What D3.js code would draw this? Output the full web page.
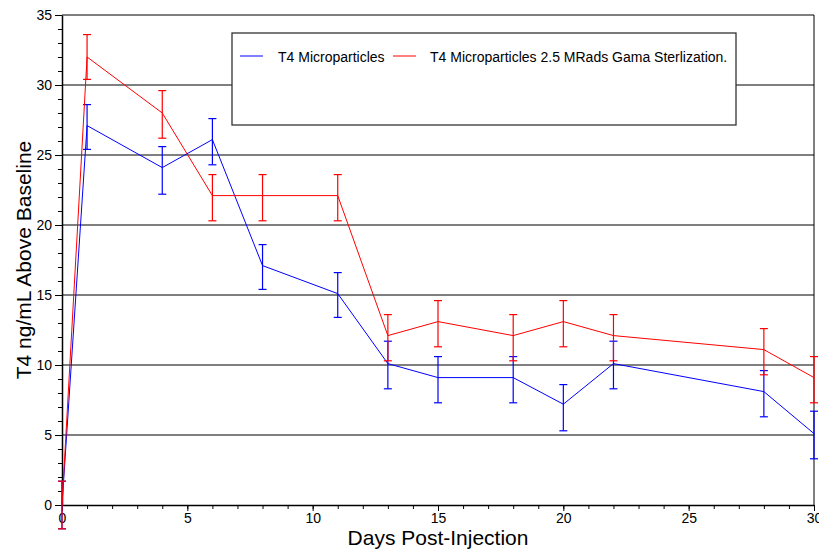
<!DOCTYPE html>
<html>
<head>
<meta charset="utf-8">
<script src="https://cdn.jsdelivr.net/npm/d3@7"></script>
<style>
  body { margin: 0; background: #fff; }
  svg { font-family: "Liberation Sans", Arial, sans-serif; }
</style>
</head>
<body>
<svg id="chart" width="819" height="554"></svg>
<script>
// days sampled
var days = [0, 1, 4, 6, 8, 11, 13, 15, 18, 20, 22, 28, 30];

// T4 Microparticles (blue)
var blueMean = [0, 27.1, 24.1, 26.1, 17.1, 15.1, 10.1, 9.1, 9.1, 7.2, 10.1, 8.1, 5.1];
var blueHi   = [1.7, 28.6, 25.6, 27.6, 18.6, 16.6, 11.7, 10.6, 10.6, 8.6, 11.7, 9.6, 6.7];
var blueLo   = [-1.7, 25.4, 22.2, 24.3, 15.4, 13.4, 8.3, 7.3, 7.3, 5.3, 8.3, 6.3, 3.3];

// T4 Microparticles 2.5 MRads Gama Sterlization (red)
var redMean = [0, 32.0, 28.0, 22.1, 22.1, 22.1, 12.1, 13.1, 12.1, 13.1, 12.1, 11.1, 9.1];
var redHi   = [1.7, 33.6, 29.6, 23.6, 23.6, 23.6, 13.6, 14.6, 13.6, 14.6, 13.6, 12.6, 10.6];
var redLo   = [-1.7, 30.4, 26.2, 20.3, 20.3, 20.3, 10.3, 11.3, 10.3, 11.3, 10.3, 9.3, 7.3];

var seriesNames = ["T4 Microparticles", "T4 Microparticles 2.5 MRads Gama Sterlization."];
var seriesColors = ["#0000ff", "#ff0000"];

var xTicks = [0, 5, 10, 15, 20, 25, 30];
var yTicks = [0, 5, 10, 15, 20, 25, 30, 35];

var svg = d3.select("#chart");

var x = d3.scaleLinear().domain([0, 30]).range([62, 814]);
var y = d3.scaleLinear().domain([0, 35]).range([505, 15]);

// horizontal grid lines
svg.append("g")
  .selectAll("line")
  .data(yTicks.filter(function(d) { return d > 0; }))
  .enter().append("line")
    .attr("x1", x(0)).attr("x2", x(30))
    .attr("y1", function(d) { return y(d); })
    .attr("y2", function(d) { return y(d); })
    .attr("stroke", "#000").attr("stroke-width", 1);

// right frame
svg.append("line")
  .attr("x1", x(30)).attr("x2", x(30))
  .attr("y1", y(35)).attr("y2", y(0))
  .attr("stroke", "#000");

// y axis: minor ticks every 1, labels every 5
svg.append("g")
  .attr("transform", "translate(" + x(0) + ",0)")
  .call(d3.axisLeft(y).tickValues(d3.range(0, 36, 1)).tickSize(4).tickFormat(""))
  .call(function(g) { g.select(".domain").remove(); });

svg.append("g")
  .attr("transform", "translate(" + x(0) + ",0)")
  .call(d3.axisLeft(y).tickValues(yTicks).tickSize(7).tickSizeOuter(0).tickPadding(3))
  .call(function(g) {
    g.selectAll("text").attr("font-size", 14).attr("font-family", "Liberation Sans").attr("fill", "#000");
    g.select(".domain").attr("stroke-width", 1.5);
  });

// x axis: minor ticks every day, labels every 5
svg.append("g")
  .attr("transform", "translate(0," + y(0) + ")")
  .call(d3.axisBottom(x).tickValues(d3.range(0, 31, 1)).tickSize(4).tickFormat(""))
  .call(function(g) { g.select(".domain").remove(); });

svg.append("g")
  .attr("transform", "translate(0," + y(0) + ")")
  .call(d3.axisBottom(x).tickValues(xTicks).tickSize(6).tickSizeOuter(0).tickPadding(2))
  .call(function(g) {
    g.selectAll("text").attr("font-size", 14).attr("font-family", "Liberation Sans").attr("fill", "#000");
    g.select(".domain").attr("stroke-width", 1.5);
  });

// axis titles
svg.append("text")
  .attr("x", 438).attr("y", 545)
  .attr("text-anchor", "middle")
  .attr("font-size", 21)
  .text("Days Post-Injection");

svg.append("text")
  .attr("transform", "translate(31,260) rotate(-90)")
  .attr("text-anchor", "middle")
  .attr("font-size", 21)
  .text("T4 ng/mL Above Baseline");

// series (blue first, red drawn on top)
var series = [
  { mean: blueMean, hi: blueHi, lo: blueLo, color: seriesColors[0] },
  { mean: redMean, hi: redHi, lo: redLo, color: seriesColors[1] }
];

var line = d3.line()
  .x(function(d) { return x(d.day); })
  .y(function(d) { return y(d.mean); });

series.forEach(function(s) {
  var pts = days.map(function(d, i) {
    return { day: d, mean: s.mean[i], hi: s.hi[i], lo: s.lo[i] };
  });

  svg.append("path")
    .datum(pts)
    .attr("fill", "none")
    .attr("stroke", s.color)
    .attr("stroke-width", 1)
    .attr("d", line);

  var eb = svg.append("g").attr("stroke", s.color).attr("stroke-width", 1.2);
  eb.selectAll(".v").data(pts).enter().append("line")
    .attr("x1", function(d) { return x(d.day); })
    .attr("x2", function(d) { return x(d.day); })
    .attr("y1", function(d) { return y(d.hi); })
    .attr("y2", function(d) { return y(d.lo); });
  eb.selectAll(".top").data(pts).enter().append("line")
    .attr("x1", function(d) { return x(d.day) - 4; })
    .attr("x2", function(d) { return x(d.day) + 4; })
    .attr("y1", function(d) { return y(d.hi); })
    .attr("y2", function(d) { return y(d.hi); });
  eb.selectAll(".bot").data(pts).enter().append("line")
    .attr("x1", function(d) { return x(d.day) - 4; })
    .attr("x2", function(d) { return x(d.day) + 4; })
    .attr("y1", function(d) { return y(d.lo); })
    .attr("y2", function(d) { return y(d.lo); });
});

// legend
var legend = svg.append("g");
legend.append("rect")
  .attr("x", 232).attr("y", 33)
  .attr("width", 504).attr("height", 92)
  .attr("fill", "#fff")
  .attr("stroke", "#333").attr("stroke-width", 1.3);

var legendPos = [{ lx: 240, tx: 278 }, { lx: 393, tx: 430 }];
seriesNames.forEach(function(name, i) {
  legend.append("line")
    .attr("x1", legendPos[i].lx).attr("x2", legendPos[i].lx + 23)
    .attr("y1", 56).attr("y2", 56)
    .attr("stroke", seriesColors[i]);
  legend.append("text")
    .attr("x", legendPos[i].tx).attr("y", 62)
    .attr("font-size", 14)
    .text(name);
});
</script>
</body>
</html>
